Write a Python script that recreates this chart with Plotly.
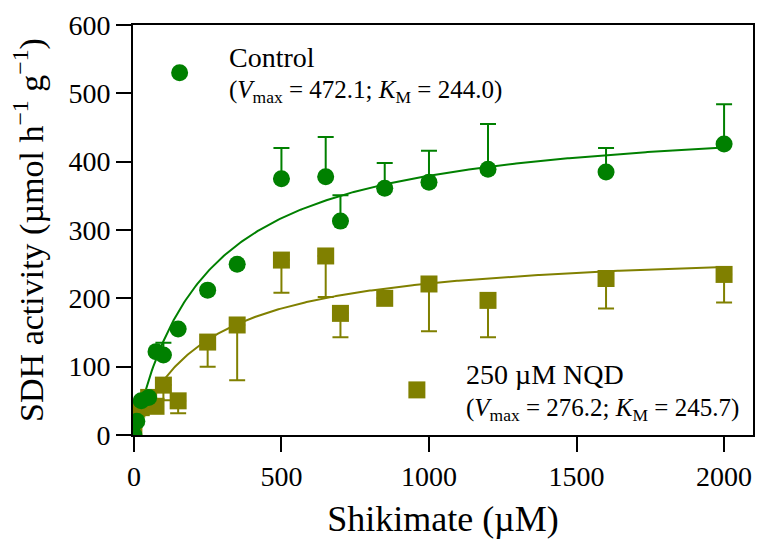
import plotly.graph_objects as go
import numpy as np

# ---- data ----
shikimate = [0, 10, 25, 50, 75, 100, 150, 250, 350, 500, 650, 700, 850, 1000, 1200, 1600, 2000]
control = [0, 20, 50, 55, 122, 117, 155, 212, 250, 375, 378, 313, 361, 370, 389, 385, 426]
control_err_up = [0, 0, 0, 0, 0, 18, 0, 0, 0, 45, 58, 38, 37, 46, 66, 35, 58]
nqd = [0, 38, 40, 55, 42, 73, 50, 136, 161, 256, 262, 178, 200, 221, 197, 229, 235]
nqd_err_down = [0, 0, 0, 0, 0, 22, 18, 36, 81, 48, 60, 35, 0, 69, 54, 44, 41]

control_vmax, control_km = 472.1, 244.0
nqd_vmax, nqd_km = 276.2, 245.7

GREEN = "#008000"
OLIVE = "#808000"
FONT = "Liberation Serif, Times New Roman, serif"

xfit = np.linspace(0, 2000, 401)

def mm(v, k, s):
    return v * s / (k + s)

fig = go.Figure()

fig.add_trace(go.Scatter(x=xfit, y=mm(control_vmax, control_km, xfit), mode="lines",
                         line=dict(color=GREEN, width=2), showlegend=False, hoverinfo="skip"))
fig.add_trace(go.Scatter(x=xfit, y=mm(nqd_vmax, nqd_km, xfit), mode="lines",
                         line=dict(color=OLIVE, width=2), showlegend=False, hoverinfo="skip"))

fig.add_trace(go.Scatter(
    x=shikimate, y=nqd, mode="markers",
    marker=dict(symbol="square", size=17, color=OLIVE),
    error_y=dict(type="data", symmetric=False, array=[0] * len(nqd), arrayminus=nqd_err_down,
                 color=OLIVE, thickness=2, width=8),
    showlegend=False))

fig.add_trace(go.Scatter(
    x=shikimate, y=control, mode="markers",
    marker=dict(symbol="circle", size=17, color=GREEN),
    error_y=dict(type="data", symmetric=False, array=control_err_up, arrayminus=[0] * len(control),
                 color=GREEN, thickness=2, width=8),
    showlegend=False))

# in-plot legend markers
fig.add_trace(go.Scatter(x=[155], y=[530], mode="markers",
                         marker=dict(symbol="circle", size=17, color=GREEN), showlegend=False))
fig.add_trace(go.Scatter(x=[959], y=[66], mode="markers",
                         marker=dict(symbol="square", size=17, color=OLIVE), showlegend=False))

annots = [
    dict(x=314, y=553, text="Control", size=28),
    dict(x=314, y=502, text="(<i>V</i><sub>max</sub> = 472.1; <i>K</i><sub>M</sub> = 244.0)", size=25),
    dict(x=1118, y=88, text="250 µM NQD", size=28),
    dict(x=1118, y=37, text="(<i>V</i><sub>max</sub> = 276.2; <i>K</i><sub>M</sub> = 245.7)", size=25),
]
for a in annots:
    fig.add_annotation(x=a["x"], y=a["y"], xref="x", yref="y", text=a["text"], showarrow=False,
                       xanchor="left", yanchor="middle",
                       font=dict(family=FONT, size=a["size"], color="black"))

axis_common = dict(showgrid=False, zeroline=False, showline=True, linecolor="black", linewidth=2,
                   mirror=True, ticks="outside", ticklen=15, tickwidth=2, tickcolor="black",
                   tickfont=dict(family=FONT, size=28, color="black"))

fig.update_xaxes(range=[-3, 2098], tickvals=[0, 500, 1000, 1500, 2000],
                 title=dict(text="Shikimate (µM)", font=dict(family=FONT, size=36, color="black")),
                 **axis_common)
fig.update_yaxes(range=[0, 600], tickvals=[0, 100, 200, 300, 400, 500, 600],
                 title=dict(text="SDH activity (µmol h<sup>−1</sup> g<sup>−1</sup>)",
                            font=dict(family=FONT, size=34, color="black")),
                 **axis_common)

fig.update_layout(width=759, height=541, margin=dict(l=133, r=4, t=25, b=106),
                  plot_bgcolor="white", paper_bgcolor="white",
                  font=dict(family=FONT, color="black"))

fig.write_html("out.html")
